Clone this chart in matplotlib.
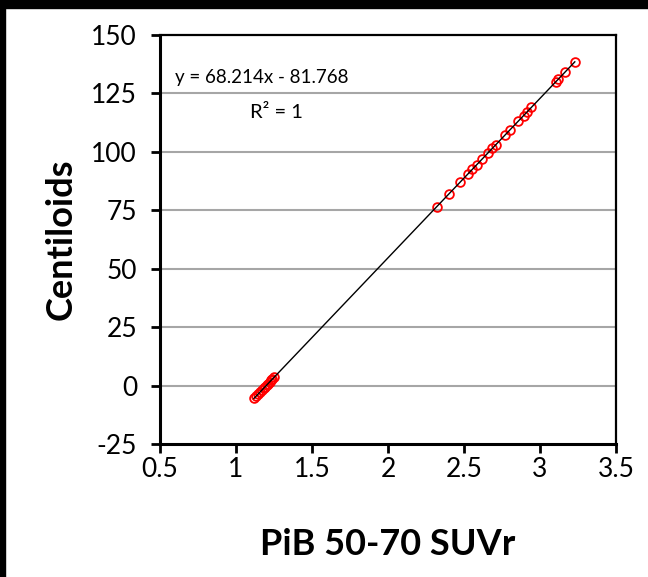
import numpy as np
import matplotlib.pyplot as plt
from matplotlib.patches import Rectangle

plt.rcParams['font.family'] = ['Lato', 'DejaVu Sans']
plt.rcParams['axes.unicode_minus'] = False

# PiB 50-70 SUVr vs Centiloids
suvr = [1.118, 1.133, 1.148, 1.158, 1.170, 1.181, 1.191, 1.202, 1.210, 1.221,
        1.231, 1.240, 1.250,
        2.320, 2.401, 2.474, 2.525, 2.555, 2.584, 2.620, 2.657, 2.686, 2.708,
        2.767, 2.804, 2.855, 2.892, 2.914, 2.943, 3.104, 3.119, 3.163, 3.229]
centiloids = [-5.5, -4.5, -3.5, -2.8, -2.0, -1.2, -0.5, 0.2, 0.8, 1.5,
              2.2, 2.8, 3.5,
              76.5, 82.0, 87.0, 90.5, 92.5, 94.5, 97.0, 99.5, 101.5, 103.0,
              107.0, 109.5, 113.0, 115.5, 117.0, 119.0, 130.0, 131.0, 134.0, 138.5]

x_ticks = [0.5, 1, 1.5, 2, 2.5, 3, 3.5]
x_ticklabels = ['0.5', '1', '1.5', '2', '2.5', '3', '3.5']
y_ticks = [-25, 0, 25, 50, 75, 100, 125, 150]

x = np.array(suvr)
y = np.array(centiloids)
slope, intercept = np.polyfit(x, y, 1)

fig = plt.figure(figsize=(6.48, 5.77), dpi=100)
ax = fig.add_axes([160 / 648, 1 - 444 / 577, 456 / 648, 409 / 577])

# frame strips around the picture
fig.patches.append(Rectangle((0, 0), 5 / 648, 1, transform=fig.transFigure,
                             color='black', zorder=0))
fig.patches.append(Rectangle((0, 1 - 8 / 577), 1, 8 / 577, transform=fig.transFigure,
                             color='black', zorder=0))

for yt in y_ticks[1:-1]:
    ax.axhline(yt, color='#a6a6a6', linewidth=1.5, zorder=1)

ax.plot(x, y, linestyle='none', marker='o', markersize=6.3, markerfacecolor='none',
        markeredgecolor='red', markeredgewidth=1.3, zorder=3)
xl = np.array([x.min(), x.max()])
ax.plot(xl, slope * xl + intercept, color='black', linewidth=1.0, zorder=4)

ax.set_xlim(0.5, 3.5)
ax.set_ylim(-25, 150)
ax.set_xticks(x_ticks)
ax.set_xticklabels(x_ticklabels)
ax.set_yticks(y_ticks)
ax.tick_params(axis='both', labelsize=19, length=6.5, width=2, direction='out')
ax.tick_params(axis='x', pad=3)
ax.tick_params(axis='y', pad=10)

for s in ['left', 'bottom']:
    ax.spines[s].set_linewidth(2.2)
for s in ['top', 'right']:
    ax.spines[s].set_linewidth(1.6)

ax.set_xlabel('PiB 50-70 SUVr', fontsize=26, fontweight='bold', labelpad=33)
ax.set_ylabel('Centiloids', fontsize=26, fontweight='bold', labelpad=10)

ax.text(1.17, 132, 'y = 68.214x - 81.768', fontsize=13.5, ha='center', va='center')
ax.text(1.263, 117, 'R² = 1', fontsize=14.5, ha='center', va='center')

fig.savefig('out.png', dpi=100, facecolor='white')
